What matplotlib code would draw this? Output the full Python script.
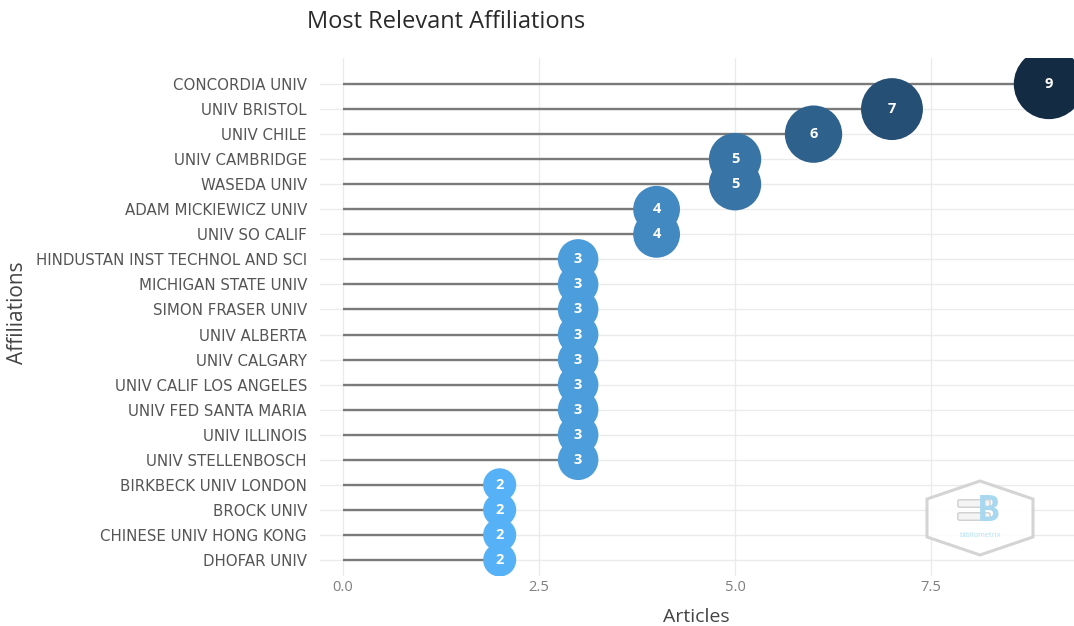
import matplotlib.pyplot as plt
import numpy as np
from matplotlib.colors import LinearSegmentedColormap
from matplotlib.patches import Polygon, FancyBboxPatch

# dati
affiliations = [
    "CONCORDIA UNIV", "UNIV BRISTOL", "UNIV CHILE", "UNIV CAMBRIDGE",
    "WASEDA UNIV", "ADAM MICKIEWICZ UNIV", "UNIV SO CALIF",
    "HINDUSTAN INST TECHNOL AND SCI", "MICHIGAN STATE UNIV",
    "SIMON FRASER UNIV", "UNIV ALBERTA", "UNIV CALGARY",
    "UNIV CALIF LOS ANGELES", "UNIV FED SANTA MARIA", "UNIV ILLINOIS",
    "UNIV STELLENBOSCH", "BIRKBECK UNIV LONDON", "BROCK UNIV",
    "CHINESE UNIV HONG KONG", "DHOFAR UNIV",
]
articles = [9, 7, 6, 5, 5, 4, 4, 3, 3, 3, 3, 3, 3, 3, 3, 3, 2, 2, 2, 2]
x_ticks = [0.0, 2.5, 5.0, 7.5]

W, H = 1074, 626
fig = plt.figure(figsize=(W / 100, H / 100), dpi=100)
ax = fig.add_axes([320 / W, 1 - 576 / H, 1 - 320 / W, (576 - 58) / H])

y = np.arange(len(affiliations))
vals = np.array(articles, dtype=float)

# colori stile ggplot (chiaro -> scuro)
cmap = LinearSegmentedColormap.from_list("gg", ["#56B1F7", "#336A98", "#132B43"])
norm = (vals - vals.min()) / (vals.max() - vals.min())
colors = cmap(norm)

# griglia
for t in x_ticks:
    ax.axvline(t, color="#ebebeb", lw=1, zorder=0)
for yy in y:
    ax.axhline(yy, color="#ebebeb", lw=1, zorder=0)

# linee
ax.hlines(y, 0, vals, color="#7a7a7a", lw=1.7, zorder=1)

# bolle: area proporzionale al valore
sizes = (2 * 11.7 * np.sqrt(vals) * 0.72) ** 2
ax.scatter(vals, y, s=sizes, c=colors, zorder=2, edgecolors="none")
for v, yy in zip(articles, y):
    ax.text(v, yy, str(v), color="white", ha="center", va="center",
            fontsize=10.5, fontweight="bold", zorder=3, family="Open Sans")

ax.set_xlim(-0.29, 9.32)
ax.set_ylim(19.64, -1.04)
ax.set_yticks(y)
ax.set_yticklabels(affiliations, fontsize=10.8, color="#555555", family="DejaVu Sans")
ax.set_xticks(x_ticks)
ax.set_xticklabels([f"{t:.1f}" for t in x_ticks], fontsize=10.5, color="#7f7f7f",
                   family="Open Sans")
ax.tick_params(length=0)
ax.tick_params(axis="y", pad=9.4)
ax.tick_params(axis="x", pad=3)
for s in ax.spines.values():
    s.set_visible(False)

fig.text(307 / W, 1 - 22 / H, "Most Relevant Affiliations", fontsize=17,
         color="#2a2a2a", va="center", ha="left", family="Open Sans")
fig.text(696 / W, 1 - 617 / H, "Articles", fontsize=14, color="#444444",
         va="center", ha="center", family="Open Sans")
fig.text(18 / W, 1 - 313 / H, "Affiliations", fontsize=15, color="#444444",
         va="center", ha="center", rotation=90, family="Open Sans")

# logo (coordinate in pixel convertite in frazione di figura)
def fp(px, py):
    return (px / W, 1 - py / H)

hexa = Polygon([fp(980, 481), fp(1033, 499), fp(1033, 537), fp(980, 555),
                fp(927, 537), fp(927, 499)], closed=True,
               transform=fig.transFigure, facecolor="white", edgecolor="#d0d0d0",
               lw=2.2, alpha=0.9)
fig.patches.append(hexa)
for py in (506, 519):
    bar = FancyBboxPatch(fp(960, py), 28 / W, 5 / H,
                         boxstyle="round,pad=0.002", transform=fig.transFigure,
                         facecolor="#f4f4f4", edgecolor="#cfcfcf", lw=1)
    fig.patches.append(bar)
fig.text(989 / W, 1 - 512 / H, "B", fontsize=25, color="#a8d8f0",
         ha="center", va="center", fontweight="bold", family="Open Sans")
fig.text(980 / W, 1 - 535 / H, "bibliometrix", fontsize=5, color="#b8e0f4",
         ha="center", va="center")

fig.savefig("out.png", dpi=100)
